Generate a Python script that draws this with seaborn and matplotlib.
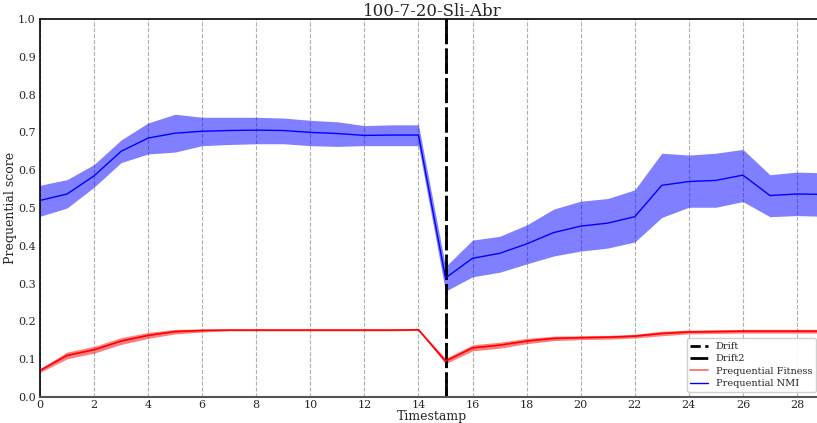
import numpy as np
import pandas as pd
import seaborn as sns
import matplotlib
matplotlib.use("Agg")
import matplotlib.pyplot as plt

# timestamps
timestamps = list(range(30))

# prequential NMI (mean, upper, lower)
nmi_mean = [0.520, 0.537, 0.585, 0.650, 0.685, 0.698, 0.703, 0.705, 0.706, 0.705,
            0.700, 0.697, 0.692, 0.693, 0.693, 0.315, 0.367, 0.380, 0.405, 0.435,
            0.452, 0.460, 0.477, 0.560, 0.570, 0.573, 0.587, 0.533, 0.537, 0.536]
nmi_upper = [0.560, 0.575, 0.615, 0.680, 0.725, 0.748, 0.740, 0.740, 0.740, 0.738,
             0.732, 0.728, 0.718, 0.720, 0.720, 0.345, 0.415, 0.425, 0.455, 0.497,
             0.518, 0.525, 0.548, 0.645, 0.640, 0.645, 0.655, 0.588, 0.595, 0.593]
nmi_lower = [0.478, 0.500, 0.555, 0.620, 0.643, 0.648, 0.665, 0.668, 0.670, 0.670,
             0.665, 0.663, 0.665, 0.665, 0.665, 0.280, 0.318, 0.330, 0.352, 0.373,
             0.386, 0.394, 0.410, 0.475, 0.502, 0.502, 0.517, 0.477, 0.480, 0.478]

# prequential fitness (mean, spread)
fit_mean = [0.070, 0.110, 0.125, 0.148, 0.163, 0.173, 0.176, 0.177, 0.177, 0.177,
            0.177, 0.177, 0.177, 0.177, 0.178, 0.095, 0.130, 0.137, 0.148, 0.155,
            0.157, 0.158, 0.161, 0.168, 0.172, 0.173, 0.174, 0.174, 0.174, 0.174]
fit_spread = [0.005, 0.009, 0.009, 0.009, 0.008, 0.006, 0.004, 0.002, 0.002, 0.002,
              0.002, 0.002, 0.002, 0.002, 0.002, 0.007, 0.008, 0.008, 0.007, 0.006,
              0.005, 0.005, 0.005, 0.006, 0.005, 0.005, 0.005, 0.005, 0.005, 0.005]

drift_points = [15]
drift2_points = [15]

title = "100-7-20-Sli-Abr"

sns.set_style("white")
plt.rcParams['font.family'] = ['DejaVu Serif']

df = pd.DataFrame({"Timestamp": timestamps, "NMI": nmi_mean, "Fitness": fit_mean})
fit_mean_a = np.array(fit_mean)
fit_spread_a = np.array(fit_spread)

fig = plt.figure(figsize=(8.17, 4.23), dpi=100)
ax = fig.add_axes([40 / 817, 26 / 423, 784 / 817, 378 / 423])

for d in drift_points:
    ax.axvline(d, color="black", linestyle="--", linewidth=2, label="Drift")
for d in drift2_points:
    ax.axvline(d, color="black", linestyle="-.", linewidth=2, label="Drift2")

sns.lineplot(data=df, x="Timestamp", y="Fitness", color="red", linewidth=1.2,
             alpha=0.6, label="Prequential Fitness", ax=ax)
ax.fill_between(timestamps, fit_mean_a - fit_spread_a, fit_mean_a + fit_spread_a,
                color="red", alpha=0.5, linewidth=0)
ax.plot(timestamps, fit_mean, color="red", linewidth=1.0)

sns.lineplot(data=df, x="Timestamp", y="NMI", color="blue", linewidth=1.0,
             label="Prequential NMI", ax=ax)
ax.fill_between(timestamps, nmi_lower, nmi_upper, color="blue", alpha=0.5, linewidth=0)

ax.set_xlim(0, 29)
ax.set_ylim(0, 1)
ax.set_xticks(range(0, 30, 2))
ax.set_yticks(np.arange(0, 1.01, 0.1))
ax.set_yticklabels([f"{v:.1f}" for v in np.arange(0, 1.01, 0.1)])
ax.tick_params(labelsize=8, length=0)
ax.tick_params(axis="x", pad=2)
ax.tick_params(axis="y", pad=3)
ax.xaxis.grid(True, linestyle="--", color="#b0b0b0", linewidth=0.8)
ax.yaxis.grid(False)
for s in ["left", "top", "right"]:
    ax.spines[s].set_color("black")
    ax.spines[s].set_linewidth(1.2)
ax.spines["bottom"].set_color("#555555")
ax.spines["bottom"].set_linewidth(1.5)

ax.set_title(title, fontsize=12, pad=2)
ax.set_xlabel("Timestamp", fontsize=9, labelpad=0)
ax.set_ylabel("Prequential score", fontsize=9, labelpad=1)

handles, labels = ax.get_legend_handles_labels()
ax.legend(handles, labels, loc="lower right", bbox_to_anchor=(0.99, 0.013),
          borderaxespad=0, fontsize=7, frameon=True, framealpha=0.9,
          borderpad=0.4, handlelength=1.8, labelspacing=0.35)

fig.savefig("out.png", dpi=100)
